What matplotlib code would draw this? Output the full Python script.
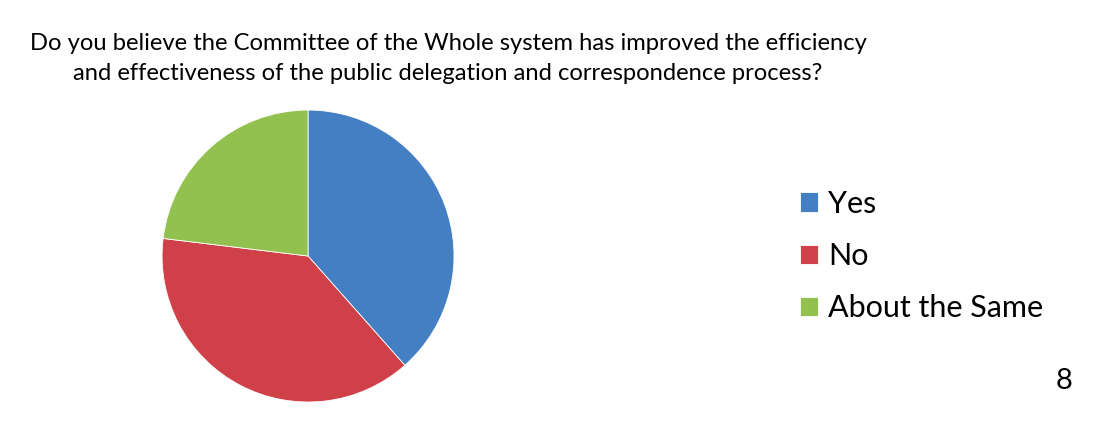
import matplotlib.pyplot as plt

# Survey responses (counts)
labels = ['Yes', 'No', 'About the Same']
counts = [5, 5, 3]
colors = ['#457FC3', '#D04048', '#92C150']

title_lines = ['Do you believe the Committee of the Whole system has improved the efficiency',
               'and effectiveness of the public delegation and correspondence process?']
page_number = '8'

plt.rcParams['font.family'] = ['Lato', 'DejaVu Sans']

fig = plt.figure(figsize=(10.97, 4.28), dpi=100)
fig.patch.set_facecolor('white')

# Pie axes placed so the circle sits left of centre
ax = fig.add_axes([0.1477, 0.0607, 0.2662, 0.6822])
wedges, _ = ax.pie(counts, colors=colors, startangle=90, counterclock=False,
                   radius=1, wedgeprops={'linewidth': 0.6, 'edgecolor': 'white'})
ax.set_xlim(-1, 1)
ax.set_ylim(-1, 1)
ax.set_aspect('equal')
ax.axis('off')

# Two-line question title
fig.text(0.4084, 1 - 43 / 428, title_lines[0], ha='center', va='center', fontsize=17.1)
fig.text(0.4084, 1 - 74 / 428, title_lines[1], ha='center', va='center', fontsize=17.1)

# Legend on the right
fig.legend(wedges, labels, loc='center left', bbox_to_anchor=(0.7293, 1 - 256 / 428),
           frameon=False, fontsize=22, handlelength=0.59, handleheight=0.59,
           handletextpad=0.33, labelspacing=0.79, borderpad=0, borderaxespad=0)

# Slide number
fig.text(1064 / 1097, 1 - 381 / 428, page_number, ha='center', va='center', fontsize=21)

fig.savefig('out.png', dpi=100, facecolor='white')
